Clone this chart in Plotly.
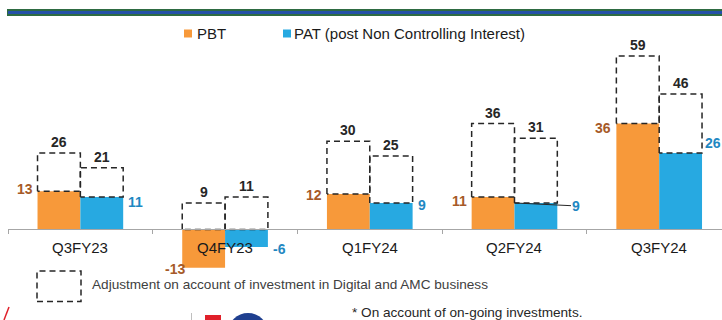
import plotly.graph_objects as go

# ---- data -------------------------------------------------------------
quarters = ["Q3FY23", "Q4FY23", "Q1FY24", "Q2FY24", "Q3FY24"]
pbt = [13, -13, 12, 11, 36]
pat = [11, -6, 9, 9, 26]
pbt_adjusted = [26, 9, 30, 36, 59]
pat_adjusted = [21, 11, 25, 31, 46]

series_names = ["PBT", "PAT (post Non Controlling Interest)"]
box_caption = "Adjustment on account of investment in Digital and AMC business"
footnote = "* On account of on-going investments."

# ---- styling ----------------------------------------------------------
W, H = 722, 320
FONT = "Liberation Sans, Arial, sans-serif"
ORANGE = "#F7993A"
BLUE = "#27A9E1"
ORANGE_TXT = "#A65A28"
BLUE_TXT = "#1F88C2"
DARK = "#262626"
AXIS = "#A6A6A6"
DASH = "6px,4px"
BAR_W = 0.296            # width of one bar, in category units

X_RANGE = [-0.5, 4.434]
Y_RANGE = [-17.2, 69.5]
X_DOM = [8 / W, 1.0]
Y_DOM = [1 - 280 / H, 1 - 25 / H]


def px(x):
    return x / W


def py(y):
    return 1 - y / H


idx = list(range(len(quarters)))

fig = go.Figure()

# solid bars
fig.add_bar(x=idx, y=pbt, width=BAR_W, offset=-BAR_W, marker=dict(color=ORANGE, line_width=0),
            name=series_names[0], showlegend=False, hoverinfo="skip")
fig.add_bar(x=idx, y=pat, width=BAR_W, offset=0, marker=dict(color=BLUE, line_width=0),
            name=series_names[1], showlegend=False, hoverinfo="skip")


# dashed boxes from the reported figure up to the adjusted figure
def box_path(values, totals, left_off):
    xs, ys = [], []
    for i, v, t in zip(idx, values, totals):
        base = max(v, 0)
        x0, x1 = i + left_off, i + left_off + BAR_W
        xs += [x0, x0, x1, x1, x0, None]
        ys += [base, t, t, base, base, None]
    return xs, ys


for vals, tots, off in [(pbt, pbt_adjusted, -BAR_W), (pat, pat_adjusted, 0)]:
    bx, by = box_path(vals, tots, off)
    fig.add_scatter(x=bx, y=by, mode="lines", showlegend=False, hoverinfo="skip",
                    line=dict(color=DARK, width=1.5, dash=DASH))

ann = []

# adjusted totals above the boxes
for vals, off in [(pbt_adjusted, -BAR_W / 2), (pat_adjusted, BAR_W / 2)]:
    for i, t in zip(idx, vals):
        ann.append(dict(x=i + off, y=t, xref="x", yref="y", text=f"<b>{t}</b>",
                        showarrow=False, yanchor="bottom", yshift=1,
                        font=dict(family=FONT, size=14, color=DARK)))

# reported values beside the bars
pbt_dy = [2, -1, -1, -4, -4]
for i, v, dy in zip(idx, pbt, pbt_dy):
    ann.append(dict(x=i - BAR_W, y=v, xref="x", yref="y", text=f"<b>{v}</b>",
                    showarrow=False, xanchor="right", yanchor="middle",
                    xshift=(5 if v < 0 else -3), yshift=dy,
                    font=dict(family=FONT, size=14, color=ORANGE_TXT)))

pat_dy = [-5, -2, -2, -3, 10]
for i, v, dy, q in zip(idx, pat, pat_dy, quarters):
    if q == "Q2FY24":
        ann.append(dict(x=i, y=v, xref="x", yref="y", text=f"<b>{v}</b>",
                        showarrow=True, arrowhead=0, arrowwidth=1, arrowcolor=DARK,
                        ax=62, ay=3, xanchor="center", yanchor="middle",
                        font=dict(family=FONT, size=14, color=BLUE_TXT)))
        continue
    ann.append(dict(x=i + BAR_W, y=v, xref="x", yref="y", text=f"<b>{v}</b>",
                    showarrow=False, xanchor="left", yanchor="middle",
                    xshift=(1 if q == "Q3FY24" else 3), yshift=dy,
                    font=dict(family=FONT, size=14, color=BLUE_TXT)))

# category labels sitting just under the zero line
for i, q in zip(idx, quarters):
    ann.append(dict(x=i, y=0, xref="x", yref="y", text=q, showarrow=False,
                    yanchor="top", yshift=-8,
                    font=dict(family=FONT, size=15, color="#1A1A1A")))

# legend text
ann.append(dict(x=px(195), y=py(33), xref="paper", yref="paper", text=series_names[0],
                showarrow=False, xanchor="left", yanchor="middle",
                font=dict(family=FONT, size=15, color="#1A1A1A")))
ann.append(dict(x=px(292), y=py(33), xref="paper", yref="paper", text=series_names[1],
                showarrow=False, xanchor="left", yanchor="middle",
                font=dict(family=FONT, size=15, color="#1A1A1A")))

# caption for the dashed box and footnote
ann.append(dict(x=px(90), y=py(284), xref="paper", yref="paper", text=box_caption,
                showarrow=False, xanchor="left", yanchor="middle",
                font=dict(family=FONT, size=13.6, color="#404040")))
ann.append(dict(x=px(350), y=py(312), xref="paper", yref="paper", text=footnote,
                showarrow=False, xanchor="left", yanchor="middle",
                font=dict(family=FONT, size=13.6, color="#262626")))

shapes = [
    # header rule
    dict(type="rect", xref="paper", yref="paper", x0=px(7), x1=px(722), y0=py(16), y1=py(9),
         fillcolor="#2E6B42", line_width=0, layer="above"),
    dict(type="rect", xref="paper", yref="paper", x0=px(8), x1=px(722), y0=py(14), y1=py(11),
         fillcolor="#2450A8", line_width=0, layer="above"),
    # legend swatches
    dict(type="rect", xref="paper", yref="paper", x0=px(184), x1=px(192), y0=py(37.5), y1=py(29.5),
         fillcolor=ORANGE, line_width=0),
    dict(type="rect", xref="paper", yref="paper", x0=px(283), x1=px(291), y0=py(37.5), y1=py(29.5),
         fillcolor=BLUE, line_width=0),
    # dashed legend box
    dict(type="rect", xref="paper", yref="paper", x0=px(37), x1=px(81), y0=py(301.5), y1=py(271),
         fillcolor="rgba(0,0,0,0)", line=dict(color=DARK, width=1.5, dash=DASH)),
    # footer logo fragments
    dict(type="line", xref="paper", yref="paper", x0=px(4), x1=px(9), y0=py(320), y1=py(307),
         line=dict(color="#E0202A", width=1.5)),
    dict(type="line", xref="paper", yref="paper", x0=px(191.5), x1=px(191.5), y0=py(320), y1=py(313),
         line=dict(color="#BFBFBF", width=1)),
    dict(type="rect", xref="paper", yref="paper", x0=px(205), x1=px(221), y0=py(322), y1=py(315),
         fillcolor="#E0202A", line_width=0),
    dict(type="circle", xref="paper", yref="paper", x0=px(228), x1=px(268), y0=py(352), y1=py(313),
         fillcolor="#1F3F8F", line_width=0),
]

zero_pos = Y_DOM[0] + (0 - Y_RANGE[0]) / (Y_RANGE[1] - Y_RANGE[0]) * (Y_DOM[1] - Y_DOM[0])

fig.update_layout(
    width=W, height=H,
    margin=dict(l=0, r=0, t=0, b=0),
    paper_bgcolor="white", plot_bgcolor="white",
    barmode="overlay",
    showlegend=False,
    annotations=ann,
    shapes=shapes,
    xaxis=dict(domain=X_DOM, range=X_RANGE, anchor="free", position=zero_pos,
               tickmode="array", tickvals=[i - 0.5 for i in range(len(quarters) + 1)],
               ticktext=[""] * (len(quarters) + 1), ticks="outside", ticklen=4,
               tickcolor=AXIS, tickwidth=1, showline=True, linecolor=AXIS, linewidth=1,
               showgrid=False, zeroline=False, fixedrange=True),
    yaxis=dict(domain=Y_DOM, range=Y_RANGE, visible=False, showgrid=False,
               zeroline=False, fixedrange=True),
)

fig.write_html("out.html", config={"displayModeBar": False})
